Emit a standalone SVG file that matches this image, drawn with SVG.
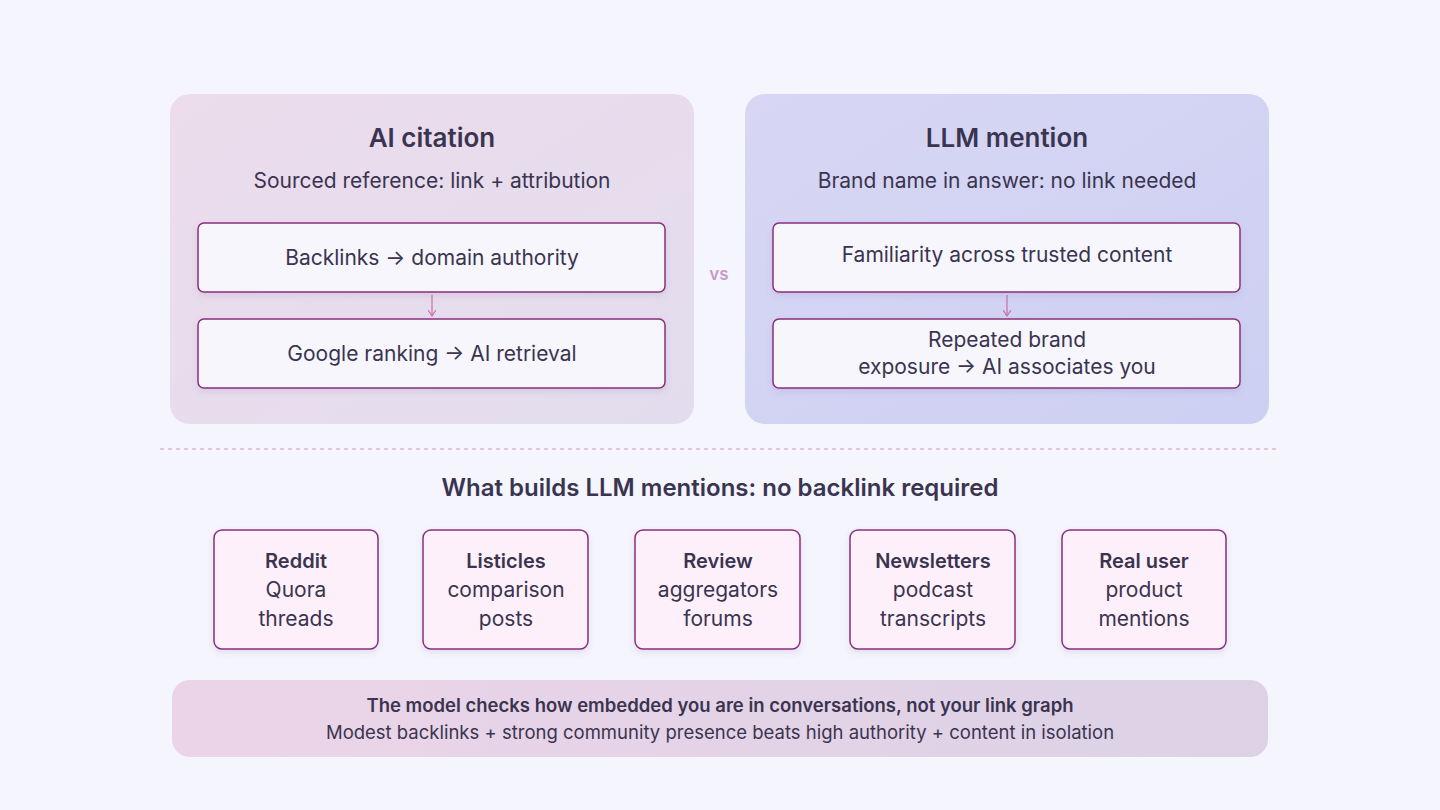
<svg xmlns="http://www.w3.org/2000/svg" width="1440" height="810" viewBox="0 0 1440 810">
<defs>
<linearGradient id="gL" x1="0" y1="0" x2="1" y2="1"><stop offset="0" stop-color="#ecdcec"/><stop offset="1" stop-color="#e2ddee"/></linearGradient>
<linearGradient id="gR" x1="0" y1="0" x2="1" y2="1"><stop offset="0" stop-color="#d8d6f4"/><stop offset="1" stop-color="#cdd0f2"/></linearGradient>
<linearGradient id="gB" x1="0" y1="0" x2="1" y2="0"><stop offset="0" stop-color="#ecd4e8"/><stop offset="1" stop-color="#dcd2e6"/></linearGradient>
<marker id="ar" markerWidth="8" markerHeight="8" refX="6" refY="4" orient="auto" markerUnits="userSpaceOnUse"><path d="M0,0 L6,4 L0,8" fill="none" stroke="#c670a8" stroke-width="1.2"/></marker>
<filter id="sh" x="-10%" y="-20%" width="120%" height="150%"><feDropShadow dx="0" dy="3" stdDeviation="3" flood-color="#7a5a9a" flood-opacity="0.15"/></filter>
</defs>
<style>
text{font-family:Inter,"Open Sans","Liberation Sans",sans-serif;fill:#3a3450;text-anchor:middle}
.h{font-size:26px;font-weight:600}
.s{font-size:21px}
.b{font-size:21px}
.box{fill:#f7f6fd;stroke:#8a2f7c;stroke-width:1.5;filter:url(#sh)}
.card{fill:#fdf0fa;stroke:#8a2f7c;stroke-width:1.5;filter:url(#sh)}
.c{font-size:21px}
.cb{font-size:20px;font-weight:600}
</style>
<rect width="1440" height="810" fill="#f4f5fd"/>
<g id="panel-ai-citation">
<rect x="170" y="94" width="524" height="330" rx="20" fill="url(#gL)"/>
<text class="h" x="432" y="147">AI citation</text>
<text class="s" x="432" y="188">Sourced reference: link + attribution</text>
</g>
<g id="node-backlinks"><rect class="box" x="198" y="223" width="467" height="69" rx="6"/><text class="b" x="432" y="265">Backlinks → domain authority</text></g>
<g id="node-google"><rect class="box" x="198" y="319" width="467" height="69" rx="6"/><text class="b" x="432" y="361">Google ranking → AI retrieval</text></g>
<text x="719" y="280" style="font-size:17px;font-weight:600;fill:#c99ac8">vs</text>
<g id="panel-llm-mention">
<rect x="745" y="94" width="524" height="330" rx="20" fill="url(#gR)"/>
<text class="h" x="1007" y="147">LLM mention</text>
<text class="s" x="1007" y="188">Brand name in answer: no link needed</text>
</g>
<g id="node-familiarity"><rect class="box" x="773" y="223" width="467" height="69" rx="6"/><text class="b" x="1007" y="262">Familiarity across trusted content</text></g>
<g id="node-repeated"><rect class="box" x="773" y="319" width="467" height="69" rx="6"/><text class="b" x="1007" y="347">Repeated brand</text><text class="b" x="1007" y="374">exposure → AI associates you</text></g>
<g id="connectors">
<line x1="432" y1="295" x2="432" y2="316" stroke="#c670a8" stroke-width="1.2" marker-end="url(#ar)"/>
<line x1="1007" y1="295" x2="1007" y2="316" stroke="#c670a8" stroke-width="1.2" marker-end="url(#ar)"/>
</g>
<line x1="160" y1="449" x2="1280" y2="449" stroke="#d49ac0" stroke-width="1.2" stroke-dasharray="4 4"/>
<text x="720" y="496" style="font-size:24px;font-weight:600">What builds LLM mentions: no backlink required</text>
<g id="card-reddit"><rect class="card" x="214" y="530" width="164" height="119" rx="8"/><text class="cb" x="296" y="568">Reddit</text><text class="c" x="296" y="597">Quora</text><text class="c" x="296" y="626">threads</text></g>
<g id="card-listicles"><rect class="card" x="423" y="530" width="165" height="119" rx="8"/><text class="cb" x="506" y="568">Listicles</text><text class="c" x="506" y="597">comparison</text><text class="c" x="506" y="626">posts</text></g>
<g id="card-review"><rect class="card" x="635" y="530" width="165" height="119" rx="8"/><text class="cb" x="718" y="568">Review</text><text class="c" x="718" y="597">aggregators</text><text class="c" x="718" y="626">forums</text></g>
<g id="card-newsletters"><rect class="card" x="850" y="530" width="165" height="119" rx="8"/><text class="cb" x="933" y="568">Newsletters</text><text class="c" x="933" y="597">podcast</text><text class="c" x="933" y="626">transcripts</text></g>
<g id="card-realuser"><rect class="card" x="1062" y="530" width="164" height="119" rx="8"/><text class="cb" x="1144" y="568">Real user</text><text class="c" x="1144" y="597">product</text><text class="c" x="1144" y="626">mentions</text></g>
<g id="summary">
<rect x="172" y="680" width="1096" height="77" rx="18" fill="url(#gB)"/>
<text x="720" y="712" style="font-size:18.5px;font-weight:600">The model checks how embedded you are in conversations, not your link graph</text>
<text x="720" y="739" style="font-size:18.5px">Modest backlinks + strong community presence beats high authority + content in isolation</text>
</g>
</svg>
